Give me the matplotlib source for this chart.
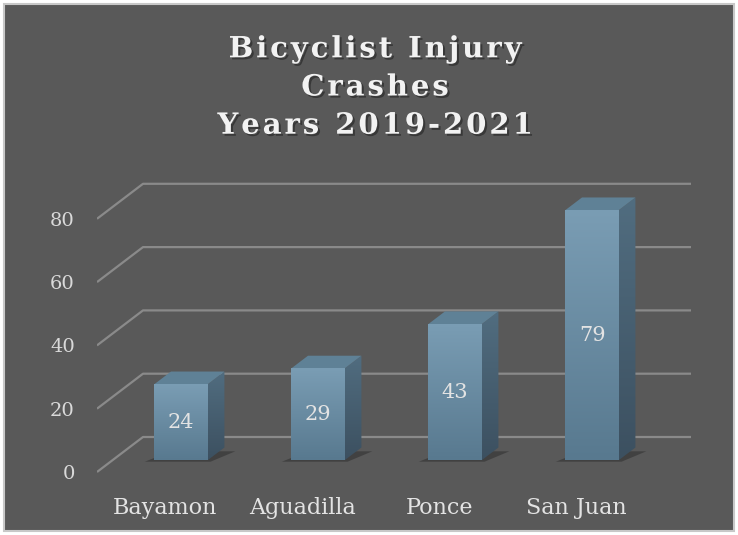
"""
Bicyclist injury crashes by municipality, 2019-2021 (Excel-style 3D column chart).
"""

import numpy as np
import matplotlib
matplotlib.use("Agg")
import matplotlib.pyplot as plt
from matplotlib.patches import Polygon, Rectangle
import matplotlib.patheffects as pe

# ── data ──────────────────────────────────────────────────────────────────
cities = ["Bayamon", "Aguadilla", "Ponce", "San Juan"]
crashes = [24, 29, 43, 79]
y_ticks = [0, 20, 40, 60, 80]
title_lines = ["Bicyclist Injury", "Crashes", "Years 2019-2021"]

# ── style ─────────────────────────────────────────────────────────────────
BG = "#595959"
GRID = "#8a8a8a"
TXT = "#e3e3e3"
FRONT_TOP, FRONT_BOT = "#7a9db4", "#58798f"
SIDE_TOP, SIDE_BOT = "#516d80", "#3c5060"
TOPFACE = "#5f8196"
SHADOW = "#3f3f3f"

# fake 3D: full floor depth expressed in data units
DX = 46 / 137      # category units
DY = 35 / 3.165    # value units
D0, D1 = 0.34, 0.70  # bar occupies this slice of the depth
BW = 0.39

plt.rcParams["font.family"] = ["DejaVu Serif"]

W, H = 738, 535
fig = plt.figure(figsize=(W / 100, H / 100), dpi=100)
fig.patch.set_facecolor("white")
fig.add_artist(Rectangle((4 / W, 4 / H), (W - 8) / W, (H - 8) / H,
                         transform=fig.transFigure, facecolor=BG,
                         edgecolor="#c8c8c8", linewidth=1.5, zorder=0))

ax = fig.add_axes([97 / W, (H - 480) / H, 603 / W, 310 / H])
ax.set_facecolor("none")
for s in ax.spines.values():
    s.set_visible(False)

# ── gridlines: slanted floor edge + back wall ─────────────────────────────
n = len(cities)
for v in y_ticks:
    ax.plot([-0.5, -0.5 + DX, n - 0.5 + DX], [v, v + DY, v + DY],
            color=GRID, linewidth=1.6, zorder=1, solid_capstyle="butt")

# ── bars ──────────────────────────────────────────────────────────────────
grad = np.linspace(0, 1, 256).reshape(-1, 1)
cmap_f = matplotlib.colors.LinearSegmentedColormap.from_list("f", [FRONT_BOT, FRONT_TOP])
cmap_s = matplotlib.colors.LinearSegmentedColormap.from_list("s", [SIDE_BOT, SIDE_TOP])
dd = D1 - D0
for i, v in enumerate(crashes):
    xc = i + D0 * DX
    xl, xr = xc - BW / 2, xc + BW / 2
    base = D0 * DY
    top = base + v

    # floor shadow
    ax.add_patch(Polygon([(xl - 0.07, base - 0.5), (xr + 0.02, base - 0.5),
                          (xr + dd * DX + 0.08, base + dd * DY - 1.2),
                          (xl + dd * DX, base + dd * DY - 1.2)],
                         closed=True, facecolor=SHADOW, edgecolor="none",
                         alpha=0.9, zorder=2))

    # front face with vertical gradient
    front = Rectangle((xl, base), BW, v, facecolor="none", edgecolor="none", zorder=4)
    ax.add_patch(front)
    im = ax.imshow(grad, cmap=cmap_f, extent=(xl, xr, base, top), origin="lower",
                   aspect="auto", zorder=4, interpolation="bilinear")
    im.set_clip_path(front)

    # side face
    side = Polygon([(xr, base), (xr + dd * DX, base + dd * DY),
                    (xr + dd * DX, top + dd * DY), (xr, top)],
                   closed=True, facecolor="none", edgecolor="none", zorder=3)
    ax.add_patch(side)
    ims = ax.imshow(grad, cmap=cmap_s, extent=(xr, xr + dd * DX, base, top + dd * DY),
                    origin="lower", aspect="auto", zorder=3, interpolation="bilinear")
    ims.set_clip_path(side)

    # top face
    ax.add_patch(Polygon([(xl, top), (xr, top), (xr + dd * DX, top + dd * DY),
                          (xl + dd * DX, top + dd * DY)],
                         closed=True, facecolor=TOPFACE, edgecolor="none", zorder=3))

    ax.text(xc, base + v / 2, str(v), ha="center", va="center",
            fontsize=15, color=TXT, zorder=6)

ax.set_xlim(-0.5, -0.5 + 603 / 137)
ax.set_ylim(-8 / 3.165, 302 / 3.165)

# ── axes labels ───────────────────────────────────────────────────────────
ax.set_yticks(y_ticks)
ax.set_yticklabels([str(t) for t in y_ticks], fontsize=14, color="#d9d9d9")
ax.set_xticks(range(n))
ax.set_xticklabels(cities, fontsize=16, color=TXT)
ax.tick_params(axis="y", length=0, pad=16)
ax.tick_params(axis="x", length=0, pad=12)

# ── title (letter-spaced with hair spaces) ────────────────────────────────
title = "\n".join("\u200a".join(line) for line in title_lines)
fig.text(375 / W, 1 - 87 / H, title, ha="center", va="center",
         fontsize=21, fontweight="bold", color="#f2f2f2", linespacing=1.4,
         path_effects=[pe.withSimplePatchShadow(offset=(1.5, -1.5),
                                                shadow_rgbFace="#2a2a2a", alpha=0.7)])

plt.savefig("out.png", dpi=100, facecolor=fig.get_facecolor())
